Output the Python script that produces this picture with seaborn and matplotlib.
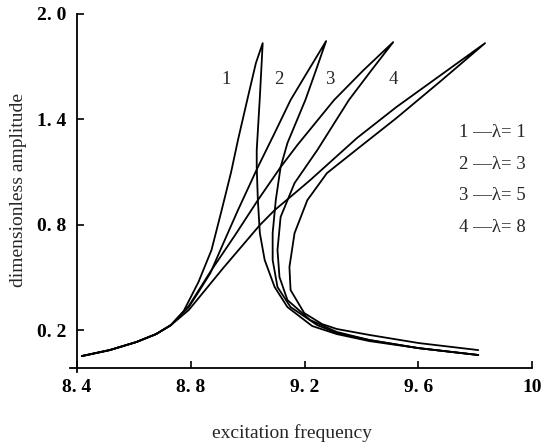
import matplotlib
matplotlib.use("Agg")
import matplotlib.pyplot as plt
import pandas as pd
import seaborn as sns

# --------------------------
# Data
# --------------------------

# shared low-amplitude part at the start of every curve
trunk_x = [8.417, 8.515, 8.609, 8.678, 8.730]
trunk_y = [0.052, 0.086, 0.132, 0.177, 0.228]

# curve 1 (lambda = 1): upper branch to the peak, then the return branch
c1_x = [8.775, 8.827, 8.873, 8.907, 8.942, 8.966, 9.001, 9.029, 9.053,
        9.043, 9.032, 9.032, 9.036, 9.043, 9.060, 9.095, 9.140, 9.227,
        9.314, 9.429, 9.602, 9.811]
c1_y = [0.308, 0.473, 0.656, 0.872, 1.100, 1.282, 1.527, 1.720, 1.834,
        1.527, 1.225, 1.128, 0.940, 0.752, 0.599, 0.445, 0.331, 0.223,
        0.177, 0.137, 0.097, 0.058]

# curve 2 (lambda = 3)
c2_x = [8.793, 8.827, 8.869, 8.918, 8.966, 9.036, 9.095, 9.151, 9.210, 9.276,
        9.238, 9.203, 9.140, 9.116, 9.099, 9.088, 9.088, 9.105, 9.151, 9.245,
        9.314, 9.429, 9.602, 9.811]
c2_y = [0.331, 0.416, 0.525, 0.707, 0.883, 1.128, 1.322, 1.510, 1.669, 1.846,
        1.669, 1.510, 1.265, 1.128, 0.940, 0.752, 0.599, 0.445, 0.331, 0.228,
        0.183, 0.143, 0.097, 0.058]

# curve 3 (lambda = 5)
c3_x = [8.793, 8.873, 8.956, 9.036, 9.116, 9.175, 9.304, 9.408, 9.512,
        9.436, 9.356, 9.245, 9.165, 9.116, 9.105, 9.112, 9.140, 9.220,
        9.314, 9.429, 9.602, 9.811]
c3_y = [0.337, 0.542, 0.741, 0.940, 1.128, 1.254, 1.510, 1.681, 1.840,
        1.681, 1.510, 1.225, 1.037, 0.844, 0.656, 0.502, 0.371, 0.257,
        0.189, 0.143, 0.097, 0.058]

# curve 4 (lambda = 8)
c4_x = [8.793, 8.914, 9.043, 9.095, 9.175, 9.220, 9.384, 9.523, 9.679, 9.835,
        9.679, 9.523, 9.394, 9.279, 9.210, 9.165, 9.147, 9.151, 9.199, 9.262,
        9.314, 9.429, 9.602, 9.811]
c4_y = [0.314, 0.553, 0.798, 0.883, 0.992, 1.054, 1.293, 1.470, 1.652, 1.834,
        1.618, 1.407, 1.242, 1.094, 0.940, 0.752, 0.559, 0.428, 0.297, 0.234,
        0.206, 0.172, 0.126, 0.086]

curve_names = ["1", "2", "3", "4"]
lambdas = [1, 3, 5, 8]

x_ticks = [8.4, 8.8, 9.2, 9.6, 10.0]
x_tick_labels = ["8. 4", "8. 8", "9. 2", "9. 6", "10"]
y_ticks = [0.2, 0.8, 1.4, 2.0]
y_tick_labels = ["0. 2", "0. 8", "1. 4", "2. 0"]

# where the curve numbers sit (data coords)
name_x = [8.925, 9.109, 9.290, 9.512]
name_y = 1.627

# --------------------------
# Build the table
# --------------------------
rows = []
for name, xs, ys in zip(curve_names, [c1_x, c2_x, c3_x, c4_x], [c1_y, c2_y, c3_y, c4_y]):
    for order, (fx, fy) in enumerate(zip(trunk_x + xs, trunk_y + ys)):
        rows.append({"curve": name, "order": order, "freq": fx, "amp": fy})
df = pd.DataFrame(rows)

# --------------------------
# Plot
# --------------------------
sns.set_style("ticks")
plt.rcParams["font.family"] = ["Liberation Serif", "DejaVu Serif"]

fig = plt.figure(figsize=(5.46, 4.47), dpi=100)
W, H = 546, 447
ax = fig.add_axes([77 / W, 1 - 368 / H, (532 - 77) / W, (368 - 14) / H])

for name in curve_names:
    sub = df[df["curve"] == name]
    sns.lineplot(data=sub, x="freq", y="amp", sort=False, estimator=None,
                 color="black", lw=1.3, ax=ax)

ax.set_xlim(8.4, 10.0)
ax.set_ylim(-0.016, 2.0)
ax.set_xticks(x_ticks)
ax.set_xticklabels(x_tick_labels)
ax.set_yticks(y_ticks)
ax.set_yticklabels(y_tick_labels)
ax.tick_params(direction="in", length=5, width=1.2, labelsize=14, pad=8,
               colors="black")
for lbl in ax.get_xticklabels() + ax.get_yticklabels():
    lbl.set_fontweight("bold")

sns.despine(ax=ax)
for side in ["left", "bottom"]:
    ax.spines[side].set_linewidth(1.3)
    ax.spines[side].set_color("black")
ax.spines["bottom"].set_bounds(8.4 - 7 / 287.75, 10.0)
ax.spines["left"].set_bounds(-0.016 - 4 / 175.6, 2.0)

ax.set_xlabel("excitation frequency", fontsize=14)
ax.set_ylabel("dimensionless amplitude", fontsize=14)
ax.xaxis.set_label_coords((292 - 77) / 455, (368 - 424) / 354)
ax.yaxis.set_label_coords((27 - 77) / 455, (368 - 190) / 354)

for name, nx in zip(curve_names, name_x):
    ax.text(nx, name_y, name, fontsize=13.5, ha="center", va="center")

for i, (name, lam) in enumerate(zip(curve_names, lambdas)):
    ax.text(0.8396, 0.665 - i * 0.089, f"{name} \u2014\u03bb= {lam}",
            fontsize=13.5, ha="left", va="center", transform=ax.transAxes)

fig.savefig("out.png", dpi=100)
